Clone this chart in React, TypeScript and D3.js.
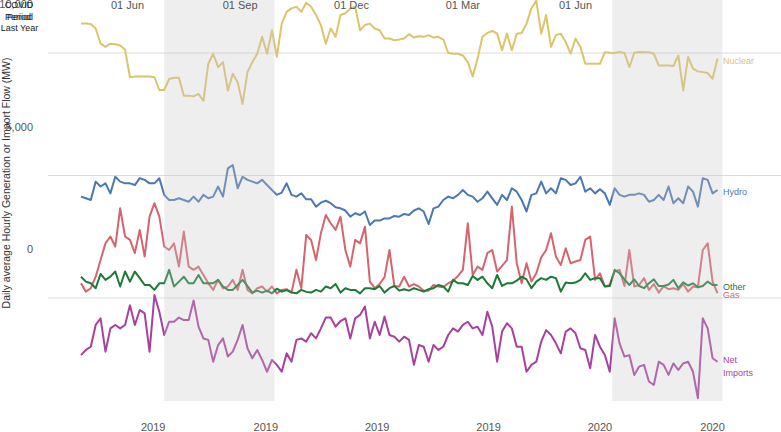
import { useEffect, useRef } from 'react';
import * as d3 from 'd3';

// daily series sampled every 4 days, starting 24 Apr 2019 (MW)
const START = Date.UTC(2019, 3, 24);
const STEP_DAYS = 4;

const nuclear = [
  11200, 11200, 11180, 11000, 10380, 10250, 10380, 10360, 10310, 10140,
  9010, 9040, 9040, 9040, 9040, 9010, 8490, 8490, 8940, 8990,
  8990, 8260, 8260, 8230, 8330, 8050, 9560, 9970, 9420, 9630,
  8470, 9150, 8810, 7920, 9220, 9630, 9970, 10660, 9970, 10930,
  9840, 11200, 11680, 11820, 11890, 11680, 12050, 11890, 11550, 11140,
  10380, 11000, 10660, 11550, 11620, 11820, 11890, 10930, 11140, 11200,
  11000, 10930, 10590, 10590, 10520, 10550, 10590, 10770, 10630, 10680,
  10660, 10730, 10630, 10660, 10550, 10000, 9970, 9970, 9900, 9630,
  9040, 9770, 10660, 10820, 10900, 10790, 10110, 10790, 10110, 10790,
  10820, 11200, 11820, 12140, 10790, 11550, 10250, 10730, 10790, 10450,
  9970, 10590, 10250, 9560, 9560, 9560, 9560, 10030, 10010, 10000,
  10040, 10000, 9420, 10010, 10040, 10030, 10030, 9970, 9490, 9490,
  9490, 9470, 9900, 8470, 9840, 9360, 9250, 9220, 9180, 8950,
  9770,
];

const hydro = [
  4140, 4070, 4000, 4750, 4550, 4680, 4270, 4950, 4750, 4680,
  4680, 4610, 4890, 4820, 4680, 4680, 4890, 4210, 4000, 4000,
  4070, 4000, 3930, 4140, 3930, 4210, 4070, 4140, 4550, 4140,
  5290, 5430, 4480, 4950, 4820, 4750, 4680, 4820, 4610, 4410,
  4210, 4300, 4680, 4210, 4140, 4270, 4030, 4030, 3730, 3890,
  3970, 3870, 3700, 3660, 3570, 3320, 3460, 3390, 3530, 2980,
  3160, 3160, 3250, 3250, 3350, 3320, 3430, 3390, 3570, 3660,
  3530, 3020, 3660, 3730, 4000, 4140, 4070, 4210, 4410, 4210,
  4140, 3930, 4070, 4340, 4070, 3800, 4210, 4000, 4480, 4340,
  4000, 3530, 4210, 4270, 4750, 4270, 4480, 4270, 4890, 4820,
  4610, 4680, 4950, 4340, 4480, 4270, 4440, 4270, 3800, 4480,
  4210, 4140, 4210, 4210, 4270, 4210, 3930, 4000, 4210, 4000,
  4550, 3870, 4070, 3870, 4550, 4340, 3730, 4890, 4820, 4270,
  4410,
];

const gas = [
  600, 260, 400, 870, 1550, 2230, 2510, 2100, 3660, 2510,
  2370, 1830, 2780, 1690, 3320, 3870, 3320, 2100, 1960, 2230,
  1280, 2710, 1280, 1150, 1280, 940, 600, 330, 740, 400,
  470, 740, 330, 1150, 330, 190, 400, 470, 260, 470,
  190, 330, 360, 220, 1150, 400, 2570, 2370, 1550, 2640,
  3390, 3050, 2780, 3320, 1960, 1280, 2370, 2230, 2910, 670,
  400, 570, 850, 1960, 490, 470, 870, 470, 570, 470,
  300, 300, 530, 470, 440, 600, 710, 900, 1150, 3050,
  940, 1280, 1150, 1830, 1960, 1080, 1310, 1550, 3730, 1420,
  600, 1420, 670, 1010, 1660, 1960, 2640, 1690, 1350, 2030,
  1420, 1490, 1550, 2370, 2510, 740, 1010, 470, 530, 1080,
  1150, 490, 1960, 470, 530, 810, 330, 570, 220, 470,
  360, 400, 330, 570, 260, 470, 440, 1960, 2230, 670,
  200,
];

const other = [
  870, 670, 600, 400, 980, 740, 870, 1080, 470, 1080,
  670, 1080, 810, 530, 530, 330, 600, 600, 1150, 470,
  670, 870, 600, 600, 940, 600, 600, 600, 740, 470,
  330, 330, 530, 740, 490, 220, 300, 220, 300, 190,
  380, 260, 320, 230, 190, 330, 250, 220, 330, 260,
  470, 400, 570, 220, 400, 330, 330, 190, 400, 400,
  360, 490, 220, 400, 490, 300, 360, 300, 400, 330,
  260, 360, 400, 530, 470, 260, 740, 600, 600, 530,
  900, 740, 870, 600, 400, 940, 490, 600, 600, 710,
  870, 760, 400, 670, 810, 740, 870, 810, 260, 630,
  600, 630, 740, 1010, 740, 810, 810, 470, 490, 1150,
  1010, 760, 530, 760, 490, 400, 600, 760, 490, 490,
  550, 740, 400, 640, 510, 600, 440, 490, 670, 530,
  530,
];

const netImports = [
  -2330, -2120, -1990, -1100, -830, -2190, -1240, -1100, -1240, -1100,
  -300, -1100, -490, -630, -2190, 120, -560, -1510, -970, -970,
  -800, -900, -900, -100, -1170, -1650, -1710, -2600, -1920, -1650,
  -2390, -2190, -1710, -1100, -2050, -2460, -2120, -2530, -3010, -2530,
  -2730, -3010, -2260, -2600, -1710, -1650, -1780, -1440, -1650, -1240,
  -800, -800, -1170, -940, -830, -1650, -830, -690, -350, -1650,
  -970, -1510, -760, -1510, -1580, -1780, -1580, -1710, -2730, -1920,
  -1990, -2600, -1920, -2120, -1990, -1510, -1240, -1370, -1100, -970,
  -1240, -1170, -1510, -560, -1170, -2600, -1370, -1030, -1240, -1990,
  -1990, -3010, -2730, -2600, -1780, -1310, -1510, -1850, -2260, -1370,
  -1240, -1440, -2050, -2120, -2870, -1510, -1990, -2330, -3010, -830,
  -1850, -2390, -2330, -3140, -2800, -2730, -3410, -3550, -2600, -2730,
  -3140, -2670, -2940, -2670, -2600, -3010, -4090, -830, -1240, -2460,
  -2600,
];

const seriesNames = ['Nuclear', 'Hydro', 'Gas', 'Other', 'Net Imports'];
const seriesValues = [nuclear, hydro, gas, other, netImports];
const seriesColors = ['#dcc46b', '#4a78b0', '#d5646f', '#1b7a36', '#a8409f'];

const topTickDates = ['2019-06-01', '2019-09-01', '2019-12-01', '2020-03-01', '2020-06-01'];
const bottomTickDates = ['2019-06-22', '2019-09-22', '2019-12-22', '2020-03-22', '2020-06-21', '2020-09-21'];
const bottomTickLabels = ['2019', '2019', '2019', '2019', '2020', '2020'];
const shadeStarts = ['2019-07-01', '2020-07-01'];
const shadeEnds = ['2019-09-29', '2020-09-29'];
const yTicks = [0, 5000, 10000];

export default function App() {
  const svgRef = useRef<SVGSVGElement>(null);

  useEffect(() => {
    if (!svgRef.current) return;
    const svg = d3.select(svgRef.current);
    svg.selectAll('*').remove();

    const width = 781;
    const height = 432;
    svg.attr('width', width).attr('height', height);

    const dateAt = (i: number) => new Date(START + i * STEP_DAYS * 864e5);

    const x = d3
      .scaleUtc()
      .domain([new Date('2019-04-24'), new Date('2020-09-30')])
      .range([81, 723.6]);

    const y = d3.scaleLinear().domain([0, 10000]).range([298, 53]);

    const font = 'Liberation Sans, Arial, sans-serif';

    // gridlines
    svg
      .append('g')
      .selectAll('line')
      .data(yTicks)
      .enter()
      .append('line')
      .attr('x1', 48)
      .attr('x2', width)
      .attr('y1', d => y(d))
      .attr('y2', d => y(d))
      .attr('stroke', '#dcdcdc')
      .attr('stroke-width', 1);

    // series lines
    const line = d3
      .line<number>()
      .x((d, i) => x(dateAt(i)))
      .y(d => y(d));

    seriesValues.forEach((vals, k) => {
      svg
        .append('path')
        .datum(vals)
        .attr('d', line)
        .attr('fill', 'none')
        .attr('stroke', seriesColors[k])
        .attr('stroke-width', 2)
        .attr('stroke-linejoin', 'round');
    });

    // summer shading over the lines
    svg
      .append('g')
      .selectAll('rect')
      .data(shadeStarts)
      .enter()
      .append('rect')
      .attr('x', d => x(new Date(d)))
      .attr('width', (d, i) => x(new Date(shadeEnds[i])) - x(new Date(d)))
      .attr('y', 0)
      .attr('height', 401)
      .attr('fill', 'rgb(200,200,200)')
      .attr('fill-opacity', 0.3);

    // series labels at line ends
    const labels = svg.append('g').attr('font-family', font).attr('font-size', 9);
    seriesValues.forEach((vals, k) => {
      const ly = y(vals[vals.length - 1]);
      const words = seriesNames[k] === 'Net Imports' ? ['Net', 'Imports'] : [seriesNames[k]];
      const shift = seriesNames[k] === 'Net Imports' ? -2 : seriesNames[k] === 'Gas' ? 1.5 : 2;
      words.forEach((w, j) => {
        labels
          .append('text')
          .attr('x', 723)
          .attr('y', ly + shift + j * 13.5)
          .attr('dy', '0.35em')
          .attr('fill', seriesColors[k])
          .text(w);
      });
    });

    // top date ticks
    const tickFmt = d3.utcFormat('%d %b');
    svg
      .append('g')
      .selectAll('text')
      .data(topTickDates)
      .enter()
      .append('text')
      .attr('x', d => x(new Date(d)))
      .attr('y', 8.5)
      .attr('text-anchor', 'middle')
      .attr('font-family', font)
      .attr('font-size', 11)
      .attr('fill', '#555')
      .text(d => tickFmt(new Date(d)));

    // bottom year ticks
    svg
      .append('g')
      .selectAll('text')
      .data(bottomTickDates)
      .enter()
      .append('text')
      .attr('x', d => x(new Date(d)))
      .attr('y', 431)
      .attr('text-anchor', 'middle')
      .attr('font-family', font)
      .attr('font-size', 11)
      .attr('fill', '#555')
      .text((d, i) => bottomTickLabels[i]);

    // y tick labels (sit above their gridlines)
    svg
      .append('g')
      .selectAll('text')
      .data(yTicks)
      .enter()
      .append('text')
      .attr('x', 33)
      .attr('y', d => y(d) - 45)
      .attr('text-anchor', 'end')
      .attr('font-family', font)
      .attr('font-size', 11)
      .attr('fill', '#555')
      .text(d => d3.format(',')(d));

    // y axis title
    svg
      .append('text')
      .attr('transform', 'translate(10,183) rotate(-90)')
      .attr('text-anchor', 'middle')
      .attr('font-family', font)
      .attr('font-size', 10.5)
      .attr('fill', '#333')
      .text('Daily average Hourly Generation or Import Flow (MW)');

    // overlapping legend text, top left
    const legend = svg
      .append('g')
      .attr('font-family', font)
      .attr('font-size', 9)
      .attr('fill', '#222')
      .attr('text-anchor', 'middle');
    legend.append('text').attr('x', 19).attr('y', 8).text('COVID');
    legend.append('text').attr('x', 18).attr('y', 19.5).text('Period');
    legend.append('text').attr('x', 20).attr('y', 19.5).text('Period');
    legend.append('text').attr('x', 19.5).attr('y', 31).text('Last Year');
  }, []);

  return <svg ref={svgRef} style={{ position: 'absolute', left: 0, top: 0 }} />;
}
